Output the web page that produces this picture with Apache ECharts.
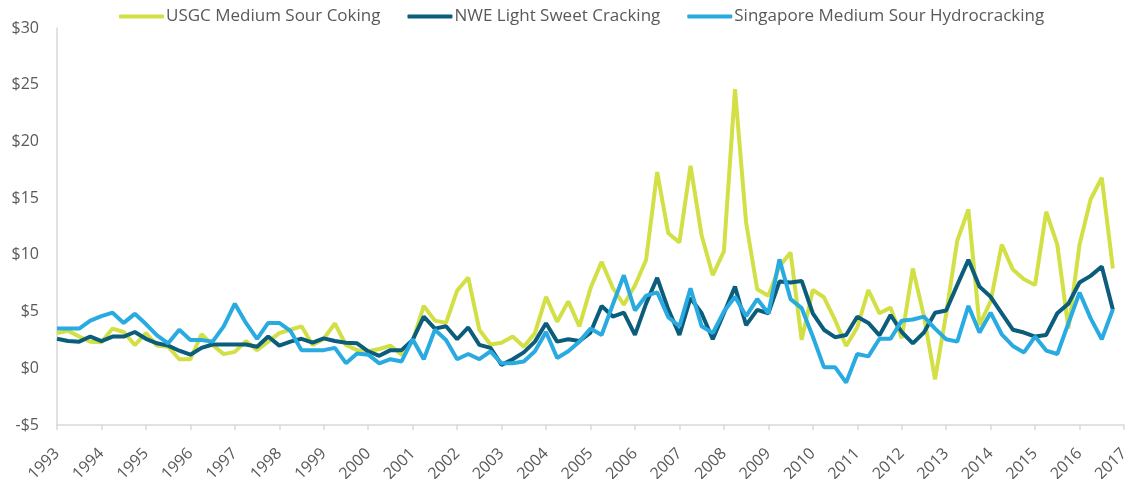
<!DOCTYPE html>
<html>
<head>
<meta charset="utf-8">
<script src="https://cdn.jsdelivr.net/npm/echarts@6/dist/echarts.min.js"></script>
<style>
html,body{margin:0;padding:0;background:#fff;}
#chart{width:1130px;height:479px;}
</style>
</head>
<body>
<div id="chart"></div>
<script>
// Quarterly series, 1993 Q1 .. 2016 Q4
const startYear = 1993;
const seriesNames = ['USGC Medium Sour Coking', 'NWE Light Sweet Cracking', 'Singapore Medium Sour Hydrocracking'];
const yearTicks = [1993,1994,1995,1996,1997,1998,1999,2000,2001,2002,2003,2004,2005,2006,2007,2008,2009,2010,2011,2012,2013,2014,2015,2016,2017];

const usgc = [3.1,3.3,2.8,2.35,2.3,3.5,3.2,2.05,3.1,2.0,1.9,0.8,0.8,3.0,2.05,1.25,1.45,2.4,1.6,2.35,3.1,3.4,3.7,2.05,
  2.6,3.95,2.05,1.6,1.5,1.7,2.0,1.2,2.4,5.5,4.2,4.0,6.85,8.0,3.4,2.1,2.25,2.8,1.9,3.1,6.3,4.1,5.9,3.7,
  7.05,9.4,7.1,5.6,7.3,9.55,17.3,11.9,11.1,17.85,11.7,8.2,10.3,24.6,12.85,6.97,6.4,8.97,10.2,2.5,6.9,6.26,4.26,1.97,
  3.6,6.9,4.85,5.35,2.65,8.8,4.6,-0.97,4.8,11.26,14.0,3.8,5.9,10.9,8.7,7.85,7.35,13.8,10.9,3.5,10.9,14.9,16.8,8.8];

const nwe = [2.6,2.4,2.35,2.8,2.4,2.8,2.8,3.2,2.6,2.2,2.0,1.55,1.2,1.8,2.1,2.1,2.1,2.1,1.9,2.8,2.0,2.35,2.6,2.26,
  2.64,2.4,2.26,2.2,1.5,1.1,1.6,1.6,2.5,4.55,3.5,3.7,2.56,3.6,2.06,1.8,0.3,0.8,1.4,2.35,3.97,2.35,2.56,2.4,
  3.15,5.5,4.56,4.9,2.94,5.7,7.97,5.2,2.94,6.2,4.85,2.56,4.85,7.2,3.8,5.15,4.85,7.65,7.56,7.7,4.85,3.4,2.74,2.94,
  4.55,4.0,2.9,4.7,3.2,2.2,3.15,4.9,5.1,7.35,9.56,7.2,6.3,4.85,3.4,3.15,2.8,2.94,4.85,5.7,7.56,8.15,8.97,5.15];

const singapore = [3.5,3.5,3.5,4.2,4.6,4.9,4.0,4.8,3.9,2.9,2.2,3.4,2.5,2.5,2.35,3.7,5.7,4.0,2.6,4.0,4.0,3.3,1.6,1.6,
  1.6,1.8,0.45,1.3,1.2,0.44,0.8,0.6,2.56,0.8,3.4,2.5,0.8,1.26,0.8,1.5,0.44,0.44,0.6,1.5,3.2,0.9,1.5,2.35,
  3.5,2.94,5.6,8.2,5.1,6.4,6.7,4.5,3.7,7.06,3.7,3.1,5.0,6.3,4.6,6.1,4.85,9.6,6.1,5.3,2.8,0.1,0.1,-1.26,
  1.26,1.05,2.6,2.6,4.2,4.3,4.56,3.5,2.56,2.35,5.5,3.15,4.9,3.0,1.97,1.4,2.8,1.56,1.26,3.97,6.68,4.4,2.56,5.2];

const colors = ['#D2E046', '#0B5D7B', '#29ABE2'];

function toPoints(arr){ return arr.map((v,i)=>[startYear + i/4, v]); }

const chart = echarts.init(document.getElementById('chart'), null, {renderer:'canvas'});
const labelColor = '#595959';
const fontFam = '"Open Sans", Lato, sans-serif';

chart.setOption({
  animation:false,
  color: colors,
  grid:{left:57, right:6, top:28, bottom:54, containLabel:false, outerBoundsMode:'none'},
  legend:{
    top:3, left:114,
    itemWidth:45, itemHeight:4, itemGap:27,
    icon:'roundRect',
    textStyle:{color:labelColor, fontSize:17, fontFamily:fontFam, padding:[0,0,0,-3]},
    data: seriesNames
  },
  xAxis:{
    type:'value', min:yearTicks[0], max:yearTicks[yearTicks.length-1], interval:1,
    axisLine:{show:true, onZero:false, lineStyle:{color:'#d9d9d9', width:1.5}},
    axisTick:{show:true, length:5, lineStyle:{color:'#d9d9d9', width:1.5}},
    splitLine:{show:false},
    axisLabel:{rotate:45, color:labelColor, fontSize:16, fontFamily:fontFam, margin:26,
      formatter:(v)=>String(v)}
  },
  yAxis:{
    type:'value', min:-5, max:30, interval:5,
    axisLine:{show:true, lineStyle:{color:'#d9d9d9', width:1.5}},
    axisTick:{show:false},
    splitLine:{show:false},
    axisLabel:{color:labelColor, fontSize:16, fontFamily:fontFam, margin:18,
      formatter:(v)=> v<0 ? '-$'+Math.abs(v) : '$'+v}
  },
  series:[
    {name:seriesNames[0], type:'line', data:toPoints(usgc), showSymbol:false, symbol:'none', lineStyle:{width:4, color:colors[0]}, z:2},
    {name:seriesNames[1], type:'line', data:toPoints(nwe), showSymbol:false, symbol:'none', lineStyle:{width:4, color:colors[1]}, z:3},
    {name:seriesNames[2], type:'line', data:toPoints(singapore), showSymbol:false, symbol:'none', lineStyle:{width:4, color:colors[2]}, z:4}
  ]
});
</script>
</body>
</html>
